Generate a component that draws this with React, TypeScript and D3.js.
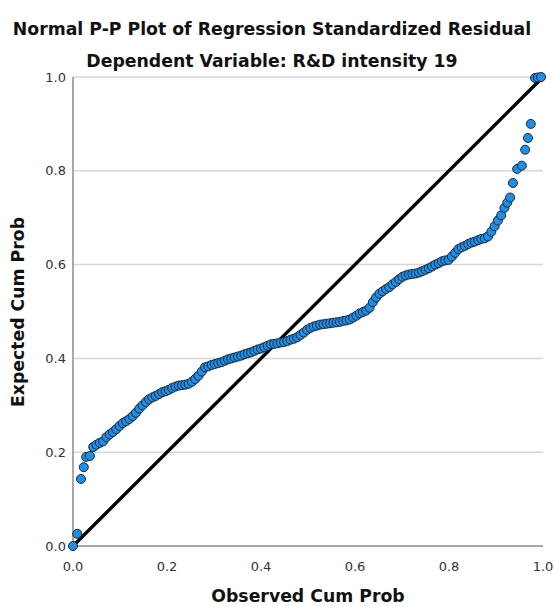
import React from "react";
import * as d3 from "d3";

const observed: number[] = [
  0.000, 0.009, 0.017, 0.023, 0.028, 0.036, 0.043, 0.050, 0.057, 0.064,
  0.071, 0.078, 0.085, 0.092, 0.099, 0.106, 0.113, 0.120, 0.127, 0.134,
  0.141, 0.148, 0.155, 0.162, 0.169, 0.176, 0.183, 0.190, 0.197, 0.204,
  0.211, 0.218, 0.225, 0.232, 0.239, 0.246, 0.253, 0.260, 0.267, 0.274,
  0.281, 0.288, 0.295, 0.302, 0.309, 0.316, 0.323, 0.330, 0.337, 0.344,
  0.351, 0.358, 0.365, 0.372, 0.379, 0.386, 0.393, 0.400, 0.407, 0.414,
  0.421, 0.428, 0.435, 0.442, 0.449, 0.456, 0.463, 0.470, 0.477, 0.484,
  0.491, 0.498, 0.505, 0.512, 0.519, 0.526, 0.533, 0.540, 0.547, 0.554,
  0.561, 0.568, 0.575, 0.582, 0.589, 0.596, 0.603, 0.610, 0.617, 0.624,
  0.631, 0.638, 0.645, 0.652, 0.659, 0.666, 0.673, 0.680, 0.687, 0.694,
  0.701, 0.708, 0.715, 0.722, 0.729, 0.736, 0.743, 0.750, 0.757, 0.764,
  0.771, 0.778, 0.785, 0.792, 0.799, 0.806, 0.813, 0.820, 0.827, 0.834,
  0.841, 0.848, 0.855, 0.862, 0.869, 0.876, 0.883, 0.890, 0.897, 0.904,
  0.911, 0.918, 0.924, 0.930, 0.936, 0.945, 0.955, 0.962, 0.968, 0.974,
  0.983, 0.989, 0.996,
];

const expected: number[] = [
  0.000, 0.026, 0.143, 0.168, 0.190, 0.192, 0.211, 0.216, 0.220, 0.223,
  0.232, 0.238, 0.243, 0.249, 0.256, 0.262, 0.266, 0.271, 0.277, 0.284,
  0.293, 0.300, 0.307, 0.313, 0.317, 0.320, 0.324, 0.328, 0.330, 0.333,
  0.337, 0.340, 0.342, 0.343, 0.344, 0.346, 0.350, 0.356, 0.363, 0.372,
  0.381, 0.383, 0.386, 0.388, 0.390, 0.392, 0.395, 0.398, 0.400, 0.402,
  0.404, 0.406, 0.409, 0.411, 0.413, 0.416, 0.419, 0.421, 0.424, 0.427,
  0.430, 0.431, 0.432, 0.434, 0.435, 0.437, 0.440, 0.442, 0.445, 0.450,
  0.455, 0.461, 0.465, 0.468, 0.470, 0.472, 0.473, 0.474, 0.475, 0.476,
  0.477, 0.478, 0.480, 0.481, 0.483, 0.487, 0.491, 0.496, 0.499, 0.502,
  0.508, 0.520, 0.530, 0.538, 0.543, 0.548, 0.552, 0.558, 0.563, 0.569,
  0.574, 0.577, 0.579, 0.580, 0.581, 0.583, 0.586, 0.589, 0.592, 0.596,
  0.600, 0.603, 0.607, 0.609, 0.610, 0.617, 0.625, 0.633, 0.637, 0.640,
  0.644, 0.647, 0.649, 0.652, 0.655, 0.656, 0.660, 0.670, 0.682, 0.694,
  0.705, 0.721, 0.732, 0.743, 0.774, 0.804, 0.811, 0.845, 0.870, 0.900,
  0.998, 0.999, 1.000,
];

const tickValues: number[] = [0.0, 0.2, 0.4, 0.6, 0.8, 1.0];
const gridValues: number[] = [0.2, 0.4, 0.6, 0.8, 1.0];

const titleText = "Normal P-P Plot of Regression Standardized Residual";
const subtitleText = "Dependent Variable: R&D intensity 19";
const xTitle = "Observed Cum Prob";
const yTitle = "Expected Cum Prob";

const W = 554;
const H = 606;
const left = 73;
const right = 543;
const top = 77;
const bottom = 546;

const FONT = "'DejaVu Sans', 'Noto Sans', sans-serif";

export default function App() {
  const x = d3.scaleLinear().domain([0, 1]).range([left, right]);
  const y = d3.scaleLinear().domain([0, 1]).range([bottom, top]);
  const fmt = d3.format(".1f");
  const pts = observed.map((o, i) => ({ o, e: expected[i] }));

  return (
    <svg
      width={W}
      height={H}
      style={{ position: "absolute", left: 0, top: 0, background: "#fff" }}
      fontFamily={FONT}
    >
      <text x={272} y={35} textAnchor="middle" fontSize={17.3} fontWeight="bold" fill="#111">
        {titleText}
      </text>
      <text x={272} y={67} textAnchor="middle" fontSize={17.3} fontWeight="bold" fill="#111">
        {subtitleText}
      </text>

      {gridValues.map((g) => (
        <line key={g} x1={left} x2={right} y1={y(g)} y2={y(g)} stroke="#d6d6d6" strokeWidth={1.5} />
      ))}

      <line x1={left} x2={left} y1={top} y2={bottom} stroke="#8c8c8c" strokeWidth={1.5} />
      <line x1={left} x2={right} y1={bottom} y2={bottom} stroke="#8c8c8c" strokeWidth={1.5} />

      {tickValues.map((t) => (
        <text key={"y" + t} x={left - 7} y={y(t)} dy="0.35em" textAnchor="end" fontSize={13} fill="#333">
          {fmt(t)}
        </text>
      ))}
      {tickValues.map((t) => (
        <text key={"x" + t} x={x(t)} y={bottom + 25} textAnchor="middle" fontSize={13} fill="#333">
          {fmt(t)}
        </text>
      ))}

      <line x1={x(0)} y1={y(0)} x2={x(1)} y2={y(1)} stroke="#000" strokeWidth={3.4} />

      {pts.map((p, i) => (
        <circle
          key={i}
          cx={x(p.o)}
          cy={y(p.e)}
          r={4.5}
          fill="#1f8ee6"
          stroke="#1b2733"
          strokeWidth={1}
        />
      ))}

      <text x={308} y={602} textAnchor="middle" fontSize={17.3} fontWeight="bold" fill="#111">
        {xTitle}
      </text>
      <text
        transform={`translate(24, 312) rotate(-90)`}
        textAnchor="middle"
        fontSize={17.3}
        fontWeight="bold"
        fill="#111"
      >
        {yTitle}
      </text>
    </svg>
  );
}
